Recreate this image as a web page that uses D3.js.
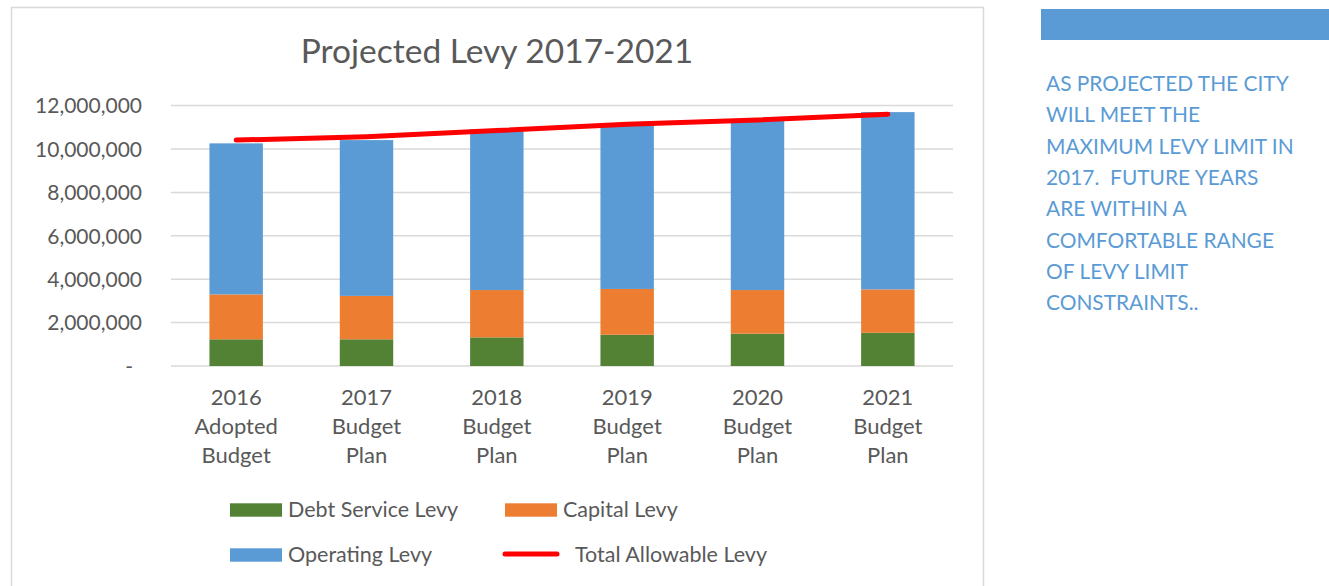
<!DOCTYPE html>
<html>
<head>
<meta charset="utf-8">
<script src="https://cdn.jsdelivr.net/npm/d3@7"></script>
<style>
  html, body { margin: 0; padding: 0; background: #fff; }
  svg { display: block; font-family: Lato, "Open Sans", sans-serif; }
  .pre { white-space: pre; }
</style>
</head>
<body>
<svg id="chart" width="1329" height="586"></svg>
<script>
// ---- data ----
const categories = ["2016 Adopted Budget", "2017 Budget Plan", "2018 Budget Plan", "2019 Budget Plan", "2020 Budget Plan", "2021 Budget Plan"];
const categoryLines = [["2016", "Adopted", "Budget"], ["2017", "Budget", "Plan"], ["2018", "Budget", "Plan"], ["2019", "Budget", "Plan"], ["2020", "Budget", "Plan"], ["2021", "Budget", "Plan"]];
const debtServiceLevy = [1230000, 1230000, 1320000, 1440000, 1490000, 1530000];
const capitalLevy     = [2070000, 2000000, 2180000, 2110000, 2010000, 2000000];
const operatingLevy   = [6960000, 7180000, 7410000, 7630000, 7800000, 8170000];
const totalAllowableLevy = [10410000, 10570000, 10850000, 11140000, 11340000, 11600000];
const yTicks = [0, 2000000, 4000000, 6000000, 8000000, 10000000, 12000000];
const seriesNames = ["Debt Service Levy", "Capital Levy", "Operating Levy", "Total Allowable Levy"];
const title = "Projected Levy 2017-2021";
const noteLines = ["AS PROJECTED THE CITY", "WILL MEET THE", "MAXIMUM LEVY LIMIT IN", "2017.  FUTURE YEARS", "ARE WITHIN A", "COMFORTABLE RANGE", "OF LEVY LIMIT", "CONSTRAINTS.."];

// ---- styles ----
const colors = { debt: "#548235", capital: "#ED7D31", operating: "#5B9BD5", total: "#FF0000" };
const textColor = "#595959";
const gridColor = "#d9d9d9";

const svg = d3.select("#chart");

// chart area border
svg.append("rect")
  .attr("x", 11.5).attr("y", 7.5).attr("width", 972).attr("height", 620)
  .attr("fill", "#fff").attr("stroke", gridColor).attr("stroke-width", 1.5);

// scales
const x = d3.scaleBand().domain(categories).range([171, 953]).paddingInner(0.59).paddingOuter(0.295);
const y = d3.scaleLinear().domain([0, 12000000]).range([366, 105.6]);

// gridlines
svg.append("g").selectAll("line").data(yTicks).join("line")
  .attr("x1", 171).attr("x2", 953)
  .attr("y1", d => y(d)).attr("y2", d => y(d))
  .attr("stroke", gridColor).attr("stroke-width", 1.5);

// y axis labels
const yAxis = d3.axisLeft(y).tickValues(yTicks).tickSize(0).tickPadding(0)
  .tickFormat(d => d === 0 ? "-" : d3.format(",")(d));
const yG = svg.append("g").attr("transform", "translate(142,0)").call(yAxis);
yG.select(".domain").remove();
yG.selectAll("text").attr("font-size", 21).attr("fill", textColor)
  .attr("font-family", "Lato, sans-serif").attr("dy", "0.35em");
yG.selectAll(".tick").filter(d => d === 0).select("text").attr("transform", "translate(-9,0)");

// stacked data
const rows = categories.map((c, i) => ({ cat: c, debt: debtServiceLevy[i], capital: capitalLevy[i], operating: operatingLevy[i] }));
const stack = d3.stack().keys(["debt", "capital", "operating"]);
const stacked = stack(rows);

svg.append("g").selectAll("g").data(stacked).join("g")
  .attr("fill", d => colors[d.key])
  .selectAll("rect").data(d => d).join("rect")
  .attr("x", d => x(d.data.cat))
  .attr("width", x.bandwidth())
  .attr("y", d => y(d[1]))
  .attr("height", d => y(d[0]) - y(d[1]));

// total allowable line
const line = d3.line().x((d, i) => x(categories[i]) + x.bandwidth() / 2).y(d => y(d));
svg.append("path").datum(totalAllowableLevy)
  .attr("d", line).attr("fill", "none")
  .attr("stroke", colors.total).attr("stroke-width", 5)
  .attr("stroke-linecap", "round").attr("stroke-linejoin", "round");

// x labels
const xl = svg.append("g");
categories.forEach((c, i) => {
  const t = xl.append("text")
    .attr("x", x(c) + x.bandwidth() / 2)
    .attr("text-anchor", "middle").attr("font-size", 22).attr("fill", textColor);
  categoryLines[i].forEach((ln, j) => {
    t.append("tspan").attr("x", x(c) + x.bandwidth() / 2).attr("y", 405 + j * 29).text(ln);
  });
});

// title
svg.append("text").attr("x", 497).attr("y", 63).attr("text-anchor", "middle")
  .attr("font-size", 33.5).attr("fill", textColor).text(title);

// legend
const legend = svg.append("g").attr("font-size", 21.5).attr("fill", textColor);
const legendItems = [
  { name: seriesNames[0], color: colors.debt, type: "rect", x: 230, y: 510, tx: 288 },
  { name: seriesNames[1], color: colors.capital, type: "rect", x: 505, y: 510, tx: 563 },
  { name: seriesNames[2], color: colors.operating, type: "rect", x: 230, y: 555, tx: 288 },
  { name: seriesNames[3], color: colors.total, type: "line", x: 505, y: 554, tx: 575 }
];
legendItems.forEach(it => {
  if (it.type === "rect") {
    legend.append("rect").attr("x", it.x).attr("y", it.y - 6.7).attr("width", 52).attr("height", 13.4).attr("fill", it.color);
  } else {
    legend.append("line").attr("x1", it.x).attr("x2", it.x + 52).attr("y1", it.y).attr("y2", it.y)
      .attr("stroke", it.color).attr("stroke-width", 5).attr("stroke-linecap", "round");
  }
  legend.append("text").attr("x", it.tx).attr("y", (it.type === "line" ? 555 : it.y) + 6.7).attr("fill", textColor).text(it.name);
});

// right note panel
svg.append("rect").attr("x", 1041).attr("y", 9).attr("width", 288).attr("height", 31).attr("fill", "#5B9BD5");
svg.append("g").selectAll("text").data(noteLines).join("text")
  .attr("class", "pre")
  .attr("x", 1046).attr("y", (d, i) => 91 + i * 31.3)
  .attr("font-size", 20.9).attr("fill", "#5B9BD5").text(d => d);
</script>
</body>
</html>
